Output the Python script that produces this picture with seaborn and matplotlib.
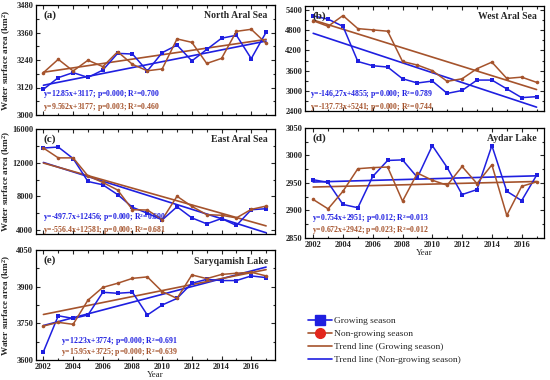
import numpy as np
import pandas as pd
import matplotlib
matplotlib.use("Agg")
import matplotlib.pyplot as plt
from matplotlib.ticker import MultipleLocator
from matplotlib.lines import Line2D
import seaborn as sns

years = list(range(2002, 2018))

north_grow = [3112, 3163, 3185, 3164, 3196, 3269, 3266, 3192, 3272, 3305, 3236, 3286, 3335, 3348, 3246, 3361]
north_non = [3185, 3243, 3192, 3239, 3211, 3276, 3221, 3193, 3201, 3332, 3317, 3225, 3247, 3365, 3374, 3313]

west_grow = [5226, 5129, 4916, 3871, 3745, 3706, 3358, 3232, 3290, 2923, 3010, 3319, 3319, 3058, 2797, 2826]
west_non = [5081, 4916, 5235, 4848, 4810, 4771, 3871, 3765, 3600, 3281, 3358, 3658, 3852, 3368, 3406, 3252]

east_grow = [13740, 13857, 12494, 9766, 9377, 8208, 6700, 6000, 5200, 6767, 5442, 4741, 5364, 4546, 6416, 6533]
east_non = [13740, 12572, 12572, 10430, 9650, 8753, 6416, 6377, 5247, 8013, 6806, 5831, 5753, 5442, 6455, 6845]

aydar_grow = [2956, 2951, 2911, 2905, 2962, 2991, 2992, 2960, 3018, 2978, 2929, 2938, 3018, 2935, 2918, 2964]
aydar_non = [2920, 2903, 2935, 2976, 2978, 2979, 2917, 2968, 2955, 2946, 2980, 2949, 2983, 2891, 2944, 2952]

sary_grow = [3634, 3781, 3770, 3784, 3877, 3873, 3877, 3784, 3825, 3852, 3914, 3930, 3925, 3925, 3944, 3937]
sary_non = [3739, 3754, 3746, 3845, 3897, 3914, 3934, 3940, 3880, 3852, 3948, 3933, 3950, 3955, 3959, 3944]

# trend lines as drawn (slope, intercept with t = 1..16)
trend_grow = [(12.85, 3117), (-146.27, 4855), (-556.4, 12581), (0.754, 2951), (15.95, 3725)]
trend_non = [(9.562, 3177), (-137.73, 5241), (-497.7, 12456), (0.672, 2942), (12.23, 3774)]

eq_grow = ["y=12.85x+3117; p=0.000; R$^2$=0.700",
           "y=-146,27x+4855; p=0.000; R$^2$=0.789",
           "y=-497.7x+12456; p=0.000; R$^2$=0.690",
           "y=0.754x+2951; p=0.012; R$^2$=0.013",
           "y=12.23x+3774; p=0.000; R$^2$=0.691"]
eq_non = ["y=9.562x+3177; p=0.003; R$^2$=0.460",
          "y=-137.73x+5241; p=0.000; R$^2$=0.744",
          "y=-556.4x+12581; p=0.000; R$^2$=0.681",
          "y=0.672x+2942; p=0.023; R$^2$=0.012",
          "y=15.95x+3725; p=0.000; R$^2$=0.639"]

names = ["North Aral Sea", "West Aral Sea", "East Aral Sea", "Aydar Lake", "Saryqamish Lake"]
letters = ["(a)", "(b)", "(c)", "(d)", "(e)"]
grow_all = [north_grow, west_grow, east_grow, aydar_grow, sary_grow]
non_all = [north_non, west_non, east_non, aydar_non, sary_non]

sns.set_theme(style="ticks")
plt.rcParams['font.family'] = ['Liberation Serif', 'DejaVu Serif']
plt.rcParams['mathtext.fontset'] = 'custom'
plt.rcParams['mathtext.rm'] = 'Liberation Serif:bold'
plt.rcParams['mathtext.bf'] = 'Liberation Serif:bold'
plt.rcParams['mathtext.it'] = 'Liberation Serif:bold:italic'

BLUE = "#1f1fe0"
BROWN = "#a5532c"
RED = "#e3261c"

W, H = 550, 380
boxes = [(36, 5, 275, 115), (305, 6, 544, 111), (36, 129, 275, 234),
         (305, 128, 544, 238), (36, 250, 275, 360)]
ylims = [(3000, 3480), (2400, 5520), (3530, 16000), (2850, 3050), (3600, 4050)]
ysteps = [120, 600, 4000, 50, 150]
xlims = [(2001.5, 2017.6), (2001.45, 2017.5), (2001.5, 2017.6), (2001.45, 2017.5), (2001.5, 2017.6)]
eq_x = [0.03, 0.02, 0.03, 0.03, 0.105]
eq_y1 = [0.185, 0.158, 0.155, 0.18, 0.17]
eq_y2 = [0.07, 0.035, 0.035, 0.07, 0.065]

fig = plt.figure(figsize=(W / 100, H / 100), dpi=100)

t = np.arange(1, 17)
for i in range(5):
    x0, y0, x1, y1 = boxes[i]
    ax = fig.add_axes([x0 / W, 1 - y1 / H, (x1 - x0) / W, (y1 - y0) / H])
    df = pd.DataFrame({"Year": years * 2,
                       "Area": grow_all[i] + non_all[i],
                       "Season": ["Growing"] * 16 + ["Non-growing"] * 16})
    sg, ig = trend_grow[i]
    sn, inn = trend_non[i]
    tr = pd.DataFrame({"Year": years * 2,
                       "Area": list(sg * t + ig) + list(sn * t + inn),
                       "Season": ["Growing"] * 16 + ["Non-growing"] * 16})
    sns.lineplot(data=tr, x="Year", y="Area", hue="Season",
                 palette={"Growing": BLUE, "Non-growing": BROWN},
                 linewidth=1.2, legend=False, ax=ax)
    sns.lineplot(data=df, x="Year", y="Area", hue="Season", style="Season",
                 palette={"Growing": BLUE, "Non-growing": BROWN},
                 markers={"Growing": "s", "Non-growing": "o"}, dashes=False,
                 markersize=2.6, markeredgewidth=0, linewidth=1.1,
                 legend=False, ax=ax)
    ax.set_xlim(*xlims[i])
    ax.set_ylim(*ylims[i])
    lo = ylims[i][0]
    start = np.ceil(lo / ysteps[i]) * ysteps[i]
    ax.set_yticks(np.arange(start, ylims[i][1] + 1, ysteps[i]))
    ax.yaxis.set_minor_locator(MultipleLocator(ysteps[i] / 2))
    ax.xaxis.set_major_locator(MultipleLocator(2))
    ax.xaxis.set_minor_locator(MultipleLocator(1))
    ax.tick_params(which="both", direction="in", top=True, right=True,
                   labelsize=6, pad=2, width=0.8)
    ax.tick_params(which="major", length=3)
    ax.tick_params(which="minor", length=1.8)
    for lab in ax.get_yticklabels() + ax.get_xticklabels():
        lab.set_fontweight("bold")
    for sp in ax.spines.values():
        sp.set_linewidth(0.9)
        sp.set_color("black")
    if i in (3, 4):
        ax.set_xlabel("Year", fontsize=6.5, labelpad=0)
    else:
        ax.set_xlabel("")
        ax.set_xticklabels([])
    if i in (0, 2, 4):
        ax.set_ylabel("Water surface area (km$^2$)", fontsize=6.6, fontweight="bold")
        ax.yaxis.set_label_coords(-0.095, 0.5)
    else:
        ax.set_ylabel("")
    ax.text(0.03, 0.95, letters[i], transform=ax.transAxes, fontsize=8,
            fontweight="bold", va="top", ha="left")
    ax.text(0.97, 0.9, names[i], transform=ax.transAxes, fontsize=7,
            fontweight="bold", va="center", ha="right")
    ax.text(eq_x[i], eq_y1[i], eq_grow[i], transform=ax.transAxes, fontsize=5.6,
            fontweight="bold", color=BLUE, va="center", ha="left")
    ax.text(eq_x[i], eq_y2[i], eq_non[i], transform=ax.transAxes, fontsize=5.6,
            fontweight="bold", color=BROWN, va="center", ha="left")

handles = [
    Line2D([], [], color=BLUE, marker="s", markersize=6.5, linewidth=1.2),
    Line2D([], [], color=BROWN, marker="o", markersize=7, markerfacecolor=RED,
           markeredgecolor=RED, linewidth=1.2),
    Line2D([], [], color=BROWN, linewidth=1.2),
    Line2D([], [], color=BLUE, linewidth=1.2),
]
labels = ["Growing season", "Non-growing season",
          "Trend line (Growing season)", "Trend line (Non-growing season)"]
fig.legend(handles, labels, loc="upper left", bbox_to_anchor=(304 / W, 1 - 313 / H),
           frameon=False, fontsize=6.8, handlelength=2.6, handletextpad=0.2,
           labelspacing=0.45, borderaxespad=0)

fig.savefig("out.png", dpi=100)
